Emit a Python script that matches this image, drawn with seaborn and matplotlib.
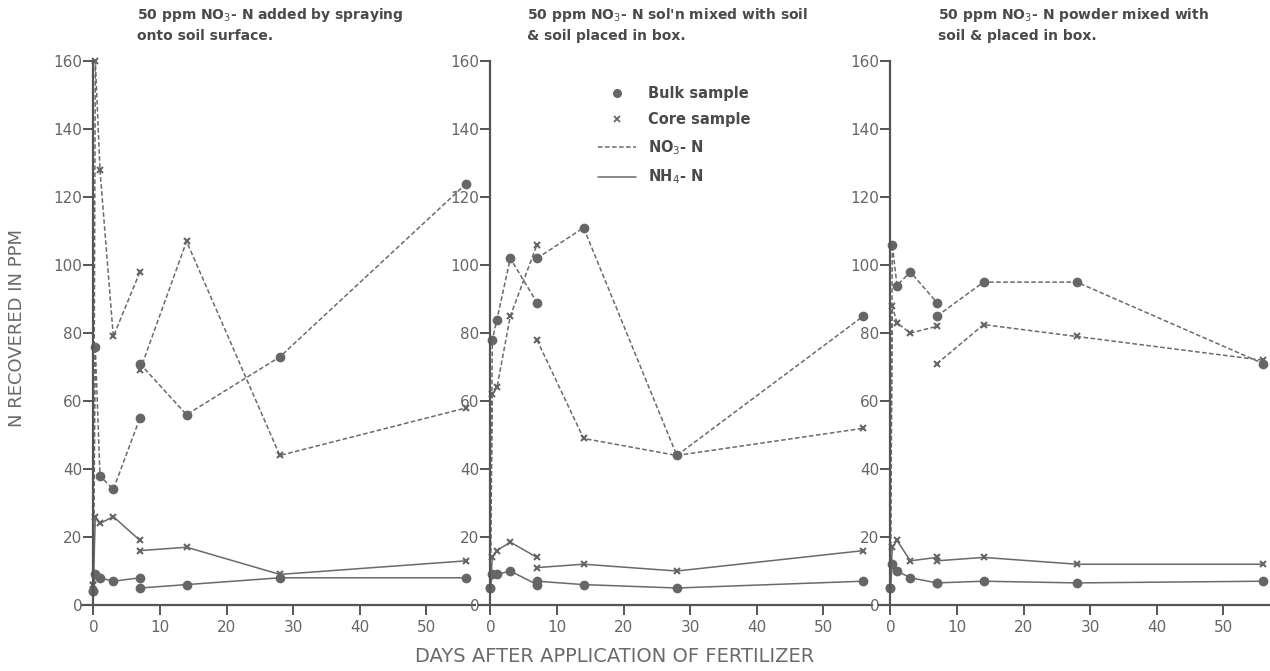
import pandas as pd
import matplotlib
matplotlib.use('Agg')
import matplotlib.pyplot as plt
import seaborn as sns
from matplotlib.lines import Line2D

sns.set_theme(style='white')
plt.rcParams['font.family'] = ['DejaVu Sans']

# sampling days: first run (0-7 days) and second run (7-56 days)
early_days = [0, 0.3, 1, 3, 7]
late_days = [7, 14, 28, 56]

panel_titles = [
    "50 ppm NO$_3$- N added by spraying\nonto soil surface.",
    "50 ppm NO$_3$- N sol'n mixed with soil\n& soil placed in box.",
    "50 ppm NO$_3$- N powder mixed with\nsoil & placed in box.",
]

# panel 1 - sprayed onto surface
p1_no3_bulk_early = [4, 76, 38, 34, 55]
p1_no3_core_early = [6, 160, 128, 79, 98]
p1_nh4_bulk_early = [4, 9, 8, 7, 8]
p1_nh4_core_early = [6, 26, 24, 26, 19]
p1_no3_bulk_late = [71, 56, 73, 124]
p1_no3_core_late = [69, 107, 44, 58]
p1_nh4_bulk_late = [5, 6, 8, 8]
p1_nh4_core_late = [16, 17, 9, 13]

# panel 2 - solution mixed with soil
p2_no3_bulk_early = [5, 78, 84, 102, 89]
p2_no3_core_early = [5, 62, 64, 85, 106]
p2_nh4_bulk_early = [5, 9, 9, 10, 6]
p2_nh4_core_early = [5, 14, 16, 18.5, 14]
p2_no3_bulk_late = [102, 111, 44, 85]
p2_no3_core_late = [78, 49, 44, 52]
p2_nh4_bulk_late = [7, 6, 5, 7]
p2_nh4_core_late = [11, 12, 10, 16]

# panel 3 - powder mixed with soil
p3_no3_bulk_early = [5, 106, 94, 98, 89]
p3_no3_core_early = [5, 88, 83, 80, 82]
p3_nh4_bulk_early = [5, 12, 10, 8, 6.5]
p3_nh4_core_early = [5, 17, 19, 13, 14]
p3_no3_bulk_late = [85, 95, 95, 71]
p3_no3_core_late = [71, 82.5, 79, 72]
p3_nh4_bulk_late = [6.5, 7, 6.5, 7]
p3_nh4_core_late = [13, 14, 12, 12]

panels = [
    {('NO3', 'Bulk', 'early'): p1_no3_bulk_early, ('NO3', 'Core', 'early'): p1_no3_core_early,
     ('NH4', 'Bulk', 'early'): p1_nh4_bulk_early, ('NH4', 'Core', 'early'): p1_nh4_core_early,
     ('NO3', 'Bulk', 'late'): p1_no3_bulk_late, ('NO3', 'Core', 'late'): p1_no3_core_late,
     ('NH4', 'Bulk', 'late'): p1_nh4_bulk_late, ('NH4', 'Core', 'late'): p1_nh4_core_late},
    {('NO3', 'Bulk', 'early'): p2_no3_bulk_early, ('NO3', 'Core', 'early'): p2_no3_core_early,
     ('NH4', 'Bulk', 'early'): p2_nh4_bulk_early, ('NH4', 'Core', 'early'): p2_nh4_core_early,
     ('NO3', 'Bulk', 'late'): p2_no3_bulk_late, ('NO3', 'Core', 'late'): p2_no3_core_late,
     ('NH4', 'Bulk', 'late'): p2_nh4_bulk_late, ('NH4', 'Core', 'late'): p2_nh4_core_late},
    {('NO3', 'Bulk', 'early'): p3_no3_bulk_early, ('NO3', 'Core', 'early'): p3_no3_core_early,
     ('NH4', 'Bulk', 'early'): p3_nh4_bulk_early, ('NH4', 'Core', 'early'): p3_nh4_core_early,
     ('NO3', 'Bulk', 'late'): p3_no3_bulk_late, ('NO3', 'Core', 'late'): p3_no3_core_late,
     ('NH4', 'Bulk', 'late'): p3_nh4_bulk_late, ('NH4', 'Core', 'late'): p3_nh4_core_late},
]

rows = []
for i, series in enumerate(panels):
    for (form, sample, seg), vals in series.items():
        days = early_days if seg == 'early' else late_days
        for d, v in zip(days, vals):
            rows.append((i, form, sample, seg, d, v))
df = pd.DataFrame(rows, columns=['panel', 'form', 'sample', 'seg', 'day', 'ppm'])

line_col = '#6a6a6a'
mark_col = '#666666'
text_col = '#4a4a4a'
dash = (0, (3, 1.6))

fig = plt.figure(figsize=(12.7, 6.71), dpi=100)
W, H = 1270, 671
left_px = [82, 479, 879]
title_px = [137, 527, 938]

for i in range(3):
    ax = fig.add_axes([left_px[i] / W, 1 - 605 / H, 393 / W, 554 / H])
    sub = df[df.panel == i]
    for (form, sample, seg), g in sub.groupby(['form', 'sample', 'seg']):
        sns.lineplot(data=g, x='day', y='ppm', ax=ax, estimator=None, sort=False,
                     color=line_col, lw=1.1,
                     linestyle=dash if form == 'NO3' else '-',
                     marker='o' if sample == 'Bulk' else 'x',
                     markersize=5.5 if sample == 'Bulk' else 4.8,
                     markerfacecolor=mark_col, markeredgecolor=mark_col,
                     markeredgewidth=1.5, clip_on=False)
    ax.set_xlim(-1.7, 57.3)
    ax.set_ylim(0, 163)
    ax.set_xticks([0, 10, 20, 30, 40, 50])
    ax.set_yticks(range(0, 161, 20))
    ax.set_xlabel('')
    ax.set_ylabel('')
    for s in ['top', 'right']:
        ax.spines[s].set_visible(False)
    ax.spines['left'].set_position(('data', 0))
    ax.spines['left'].set_bounds(0, 160)
    for s in ['left', 'bottom']:
        ax.spines[s].set_color('#555555')
        ax.spines[s].set_linewidth(1.6)
    ax.tick_params(axis='both', direction='out', length=7, width=1.4,
                   color='#555555', labelcolor='#666666', labelsize=11,
                   left=True, bottom=True)
    ax.tick_params(axis='y', pad=1)
    ax.set_facecolor('none')
    fig.text(title_px[i] / W, 1 - 6 / H, panel_titles[i], ha='left', va='top',
             fontsize=10, fontweight='bold', color=text_col, linespacing=1.45)

    if i == 1:
        handles = [
            Line2D([], [], ls='none', marker='o', color=mark_col, markersize=5.5),
            Line2D([], [], ls='none', marker='x', color=mark_col, markersize=4.5, mew=1.3),
            Line2D([], [], ls=dash, color=line_col, lw=1.1),
            Line2D([], [], ls='-', color=line_col, lw=1.1),
        ]
        labels = ['Bulk sample', 'Core sample', 'NO$_3$- N', 'NH$_4$- N']
        leg = ax.legend(handles, labels, loc='upper left', bbox_to_anchor=(0.27, 0.96),
                        frameon=False, fontsize=10.5, handlelength=2.6,
                        labelspacing=0.75, handletextpad=0.8,
                        prop={'weight': 'bold', 'size': 10.5})
        for t in leg.get_texts():
            t.set_color(text_col)

fig.text(17 / W, 1 - 328 / H, 'N RECOVERED IN PPM', rotation=90, ha='center',
         va='center', fontsize=13, color='#6a6a6a')
fig.text(615 / W, 1 - 657 / H, 'DAYS AFTER APPLICATION OF FERTILIZER', ha='center',
         va='center', fontsize=14, color='#6a6a6a')

fig.savefig('out.png', dpi=100, facecolor='white')
